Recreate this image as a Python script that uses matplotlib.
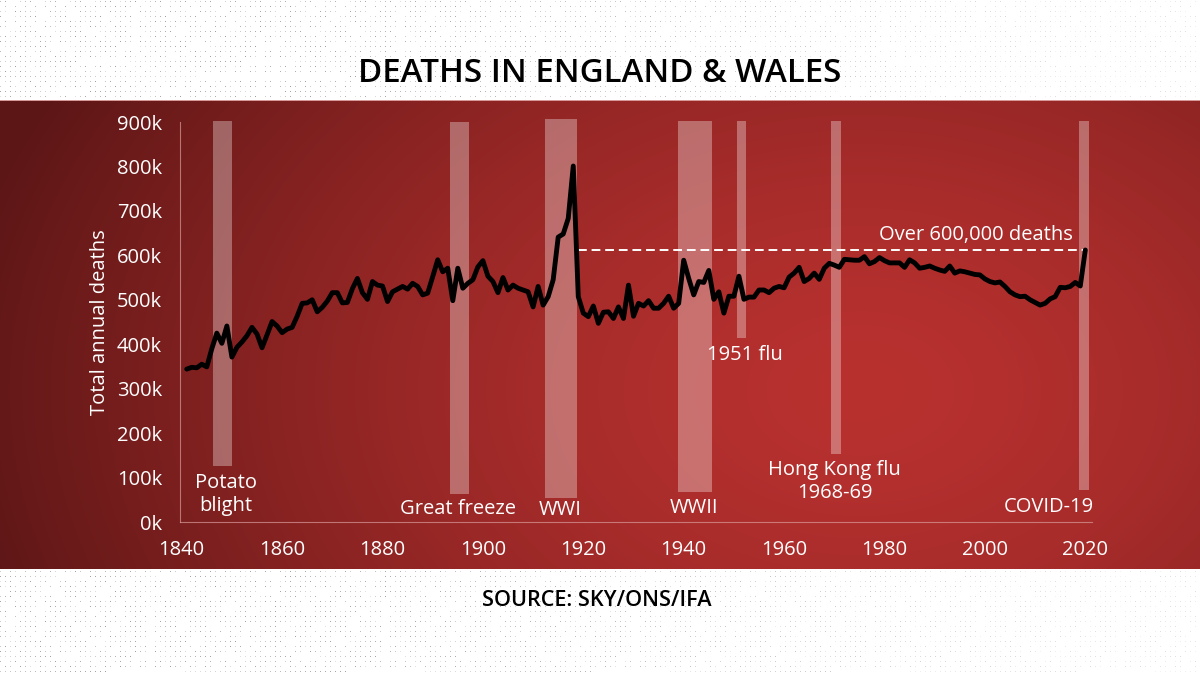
import numpy as np
import matplotlib
matplotlib.use("Agg")
import matplotlib.pyplot as plt

# ---------------- data ----------------
years = list(range(1841, 2021))
deaths_k = [
    344, 348, 347, 355, 349, 390, 425, 402, 441, 371,   # 1841-1850
    393, 405, 419, 438, 423, 392, 421, 451, 441, 426,   # 1851-1860
    434, 438, 463, 492, 493, 500, 473, 483, 497, 516,   # 1861-1870
    516, 493, 494, 525, 548, 516, 501, 541, 533, 531,   # 1871-1880
    496, 518, 524, 530, 524, 537, 530, 511, 515, 552,   # 1881-1890
    590, 563, 571, 498, 571, 526, 537, 545, 574, 588,   # 1891-1900
    553, 541, 516, 550, 522, 533, 526, 522, 518, 484,   # 1901-1910
    530, 488, 507, 545, 641, 648, 683, 801, 507, 470,   # 1911-1920
    462, 486, 447, 472, 473, 458, 484, 458, 533, 463,   # 1921-1930
    492, 486, 498, 481, 481, 492, 508, 481, 492, 589,   # 1931-1940
    548, 511, 541, 539, 566, 501, 518, 470, 508, 508,   # 1941-1950
    553, 501, 506, 506, 522, 522, 516, 526, 530, 527,   # 1951-1960
    551, 560, 573, 541, 548, 560, 546, 571, 582, 578,   # 1961-1970
    573, 591, 590, 589, 589, 597, 581, 586, 595, 588,   # 1971-1980
    583, 583, 583, 573, 590, 583, 571, 573, 576, 571,   # 1981-1990
    567, 564, 576, 560, 565, 563, 560, 557, 556, 547,   # 1991-2000
    541, 538, 540, 530, 518, 511, 507, 508, 500, 494,   # 2001-2010
    488, 492, 502, 507, 528, 527, 530, 539, 531, 612,   # 2011-2020
]

y_ticks = [0, 100, 200, 300, 400, 500, 600, 700, 800, 900]
y_tick_labels = ["0k", "100k", "200k", "300k", "400k", "500k",
                 "600k", "700k", "800k", "900k"]
x_ticks = [1840, 1860, 1880, 1900, 1920, 1940, 1960, 1980, 2000, 2020]
x_tick_labels = [str(v) for v in x_ticks]

event_names = ["Potato\nblight", "Great freeze", "WWI", "WWII",
               "1951 flu", "Hong Kong flu\n1968-69", "COVID-19"]
event_start = [1846.2, 1893.4, 1912.4, 1938.9, 1950.6, 1969.3, 2018.8]
event_end = [1850.0, 1897.2, 1918.75, 1945.6, 1952.4, 1971.3, 2020.7]
event_low_k = [125, 63, 54, 67, 414, 153, 72]
event_high_k = [902, 900, 907, 902, 902, 902, 902]

# label layout (data coords)
label_x = [1848.8, 1895.0, 1915.4, 1942.1, 1952.2, 1970.1, 2012.8]
label_y = [63, 29, 27, 31, 376, 90, 34]

title = "DEATHS IN ENGLAND & WALES"
source = "SOURCE: SKY/ONS/IFA"
ref_label = "Over 600,000 deaths"
ref_start_year = 1919

FONT = "Open Sans"

# ---------------- figure & background ----------------
W, H = 1200, 674
fig = plt.figure(figsize=(W / 100, H / 100), dpi=100)

bg = np.ones((H, W, 3))
# light dotted texture (decorative)
yy, xx = np.mgrid[0:H, 0:W]
dots = ((xx % 5) == 0) & ((yy % 5) == 1)
hashv = ((xx * 7919 + yy * 104729 + (xx // 5) * (yy // 5) * 31) % 97) / 97.0
fade = np.clip(1.25 - xx / W, 0.35, 1.0)
strength = np.where(dots & (hashv > 0.3), 0.38 * hashv * fade, 0.0)
bg = bg - strength[..., None]

# red radial gradient panel
top, bot = 100, 569
py, px = np.mgrid[top:bot, 0:W]
d = np.sqrt(((px - 860) / 920.0) ** 2 + ((py - 390) / 640.0) ** 2)
t = np.clip(d, 0, 1) ** 1.5
bright = np.array([184, 49, 47]) / 255.0
dark = np.array([92, 22, 22]) / 255.0
panel = bright[None, None, :] * (1 - t[..., None]) + dark[None, None, :] * t[..., None]
bg[top:bot] = panel
bg[top, :] = np.array([0.85, 0.6, 0.6])

axbg = fig.add_axes([0, 0, 1, 1])
axbg.imshow(np.clip(bg, 0, 1), aspect="auto", interpolation="nearest")
axbg.set_axis_off()

# ---------------- chart axes ----------------
x_left, x_right = 180, 1092
y_bottom, y_top = 522, 122
ax = fig.add_axes([x_left / W, (H - y_bottom) / H,
                   (x_right - x_left) / W, (y_bottom - y_top) / H])
ax.patch.set_alpha(0)
px_per_year = 5.02
x0_pix = 181.7
ax.set_xlim(1840 + (x_left - x0_pix) / px_per_year,
            1840 + (x_right - x0_pix) / px_per_year)
ax.set_ylim(0, 900)

for s, e, lo, hi in zip(event_start, event_end, event_low_k, event_high_k):
    ax.fill_between([s, e], [lo, lo], [hi, hi], color="white", alpha=0.32,
                    linewidth=0, clip_on=False, zorder=1)

ax.plot(years, deaths_k, color="black", lw=3.5, solid_joinstyle="round",
        solid_capstyle="round", zorder=3)

ref_val = deaths_k[-1]
ax.plot([ref_start_year, years[-1]], [ref_val, ref_val], color="white",
        lw=1.4, dashes=(4.5, 2.5), zorder=2)
ax.text(2017.6, ref_val + 34, ref_label, color="white", fontsize=14.5,
        family=FONT, ha="right", va="center", zorder=4)

for name, lx, ly in zip(event_names, label_x, label_y):
    ax.text(lx, ly, name, color="white", fontsize=14.5, family=FONT,
            ha="center", va="center", linespacing=1.2, zorder=4)

for side in ["top", "right"]:
    ax.spines[side].set_visible(False)
for side in ["left", "bottom"]:
    ax.spines[side].set_color("#d89a9a")
    ax.spines[side].set_linewidth(0.8)
    ax.spines[side].set_alpha(0.7)

ax.set_yticks(y_ticks)
ax.set_yticklabels(y_tick_labels, family=FONT, fontsize=14.5, color="white")
ax.set_xticks(x_ticks)
ax.set_xticklabels(x_tick_labels, family=FONT, fontsize=14.5, color="white")
ax.tick_params(axis="y", length=0, pad=13)
ax.tick_params(axis="x", length=0, pad=13)
ax.set_ylabel("Total annual deaths", family=FONT, fontsize=14.5,
              color="white", labelpad=5)

fig.text(0.4995, 1 - 73 / H, title, family=FONT, fontsize=23.8,
         weight="semibold", color="black", ha="center", va="center")
fig.text(0.4975, 1 - 601 / H, source, family=FONT, fontsize=15.6,
         weight="semibold", color="black", ha="center", va="center")

fig.savefig("out.png", dpi=100)
